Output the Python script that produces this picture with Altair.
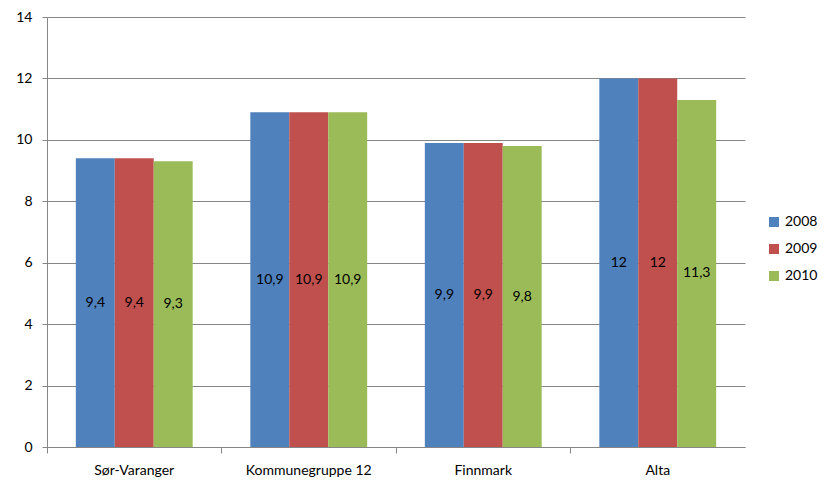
import altair as alt
import pandas as pd

categories = ["Sør-Varanger", "Kommunegruppe 12", "Finnmark", "Alta"]
years = ["2008", "2009", "2010"]
v2008 = [9.4, 10.9, 9.9, 12]
v2009 = [9.4, 10.9, 9.9, 12]
v2010 = [9.3, 10.9, 9.8, 11.3]
colors = ["#4F81BD", "#C0504D", "#9BBB59"]

rows = []
for yr, vals in zip(years, [v2008, v2009, v2010]):
    for c, v in zip(categories, vals):
        lab = ("%g" % v).replace(".", ",")
        rows.append({"kategori": c, "år": yr, "verdi": v, "mid": v / 2, "label": lab})
df = pd.DataFrame(rows)

FONT = "Lato"
FS = 14

x = alt.X("kategori:N", sort=categories, title=None,
          scale=alt.Scale(paddingInner=0, paddingOuter=0),
          axis=alt.Axis(labelAngle=0, labelFontSize=FS, labelFont=FONT, labelColor="black",
                        tickColor="#868686", domainColor="#868686", tickSize=6,
                        bandPosition=0, labelPadding=10, grid=False))
xo = alt.XOffset("år:N", sort=years,
                 scale=alt.Scale(paddingInner=0, paddingOuter=0.74))

base = alt.Chart(df)

bars = base.mark_bar().encode(
    x=x, xOffset=xo,
    y=alt.Y("verdi:Q", title=None,
            scale=alt.Scale(domain=[0, 14], nice=False),
            axis=alt.Axis(values=[0, 2, 4, 6, 8, 10, 12, 14], labelFontSize=FS, labelFont=FONT,
                          labelColor="black", gridColor="#868686", domainColor="#868686",
                          tickColor="#868686", tickSize=5, labelPadding=10)),
    color=alt.Color("år:N", sort=years, scale=alt.Scale(domain=years, range=colors),
                    legend=alt.Legend(title=None, orient="none", legendX=720, legendY=198,
                                      symbolType="square", symbolSize=100, labelFontSize=FS,
                                      labelFont=FONT, labelColor="black", rowPadding=13,
                                      symbolStrokeWidth=0)),
)

text = base.mark_text(fontSize=FS, font=FONT, color="black").encode(
    x=x, xOffset=xo,
    y=alt.Y("mid:Q"),
    text="label:N",
)

chart = (bars + text).properties(
    width=698, height=430,
    autosize=alt.AutoSizeParams(type="none"),
    padding={"left": 39, "top": 9, "right": 75, "bottom": 43},
).configure_view(stroke=None).configure_axis(domainWidth=1, gridWidth=1)

chart.save("out.html", embed_options={"renderer": "svg", "actions": False})
